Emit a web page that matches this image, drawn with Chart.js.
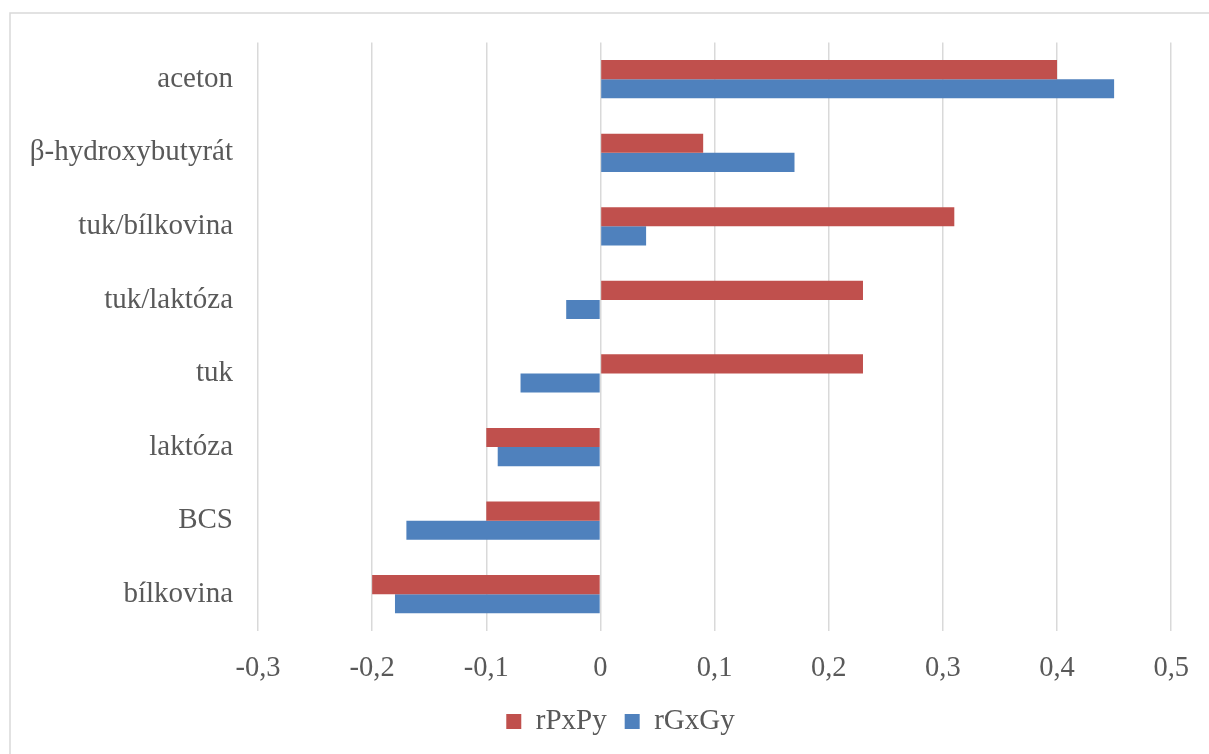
<!DOCTYPE html>
<html lang="cs">
<head>
<meta charset="utf-8">
<title>Genetické a fenotypové korelace</title>
<script src="https://cdn.jsdelivr.net/npm/chart.js@4/dist/chart.umd.min.js"></script>
<style>
  html, body { margin: 0; padding: 0; background: #ffffff; overflow: hidden; }
  #chart { display: block; }
</style>
</head>
<body>
<canvas id="chart" width="1209" height="754"></canvas>
<script>
// Traits, listed top to bottom
const categories = ['aceton', 'β-hydroxybutyrát', 'tuk/bílkovina', 'tuk/laktóza', 'tuk', 'laktóza', 'BCS', 'bílkovina'];

// Phenotypic correlations
const rPxPy = [0.40, 0.09, 0.31, 0.23, 0.23, -0.10, -0.10, -0.20];
// Genetic correlations
const rGxGy = [0.45, 0.17, 0.04, -0.03, -0.07, -0.09, -0.17, -0.18];

const seriesNames = ['rPxPy', 'rGxGy'];
const xTicks = [-0.3, -0.2, -0.1, 0, 0.1, 0.2, 0.3, 0.4, 0.5];

const textColor = '#595959';
const gridColor = '#d9d9d9';
const fontFamily = "'Liberation Serif', 'Times New Roman', serif";

// Light frame around the whole figure
const framePlugin = {
  id: 'frame',
  beforeDraw(chart) {
    const ctx = chart.ctx;
    ctx.save();
    ctx.strokeStyle = gridColor;
    ctx.lineWidth = 1.5;
    ctx.strokeRect(10, 13, chart.width + 20, chart.height + 20);
    ctx.restore();
  }
};

// Centre the legend under the whole figure rather than the padded area
const legendShift = {
  id: 'legendShift',
  afterLayout(chart) {
    const lg = chart.legend;
    if (!lg) return;
    const dx = 34;
    lg.left += dx;
    lg.right += dx;
  }
};

const formatTick = v => {
  const r = Math.round(v * 10) / 10;
  if (r === 0) return '0';
  return r.toFixed(1).replace('.', ',');
};

new Chart(document.getElementById('chart'), {
  type: 'bar',
  data: {
    labels: categories,
    datasets: [
      { label: seriesNames[0], data: rPxPy, backgroundColor: '#C0504D', borderWidth: 0 },
      { label: seriesNames[1], data: rGxGy, backgroundColor: '#4F81BD', borderWidth: 0 }
    ]
  },
  options: {
    indexAxis: 'y',
    responsive: false,
    devicePixelRatio: 1,
    animation: false,
    categoryPercentage: 0.52,
    barPercentage: 1,
    layout: { padding: { top: 42, right: 36, bottom: 8, left: 0 } },
    font: { family: fontFamily },
    scales: {
      x: {
        type: 'linear',
        min: xTicks[0],
        max: xTicks[xTicks.length - 1],
        afterBuildTicks(scale) {
          scale.ticks = xTicks.map(v => ({ value: v }));
        },
        afterFit(scale) { scale.height = 58; },
        grid: { color: gridColor, lineWidth: 1.5, drawTicks: false },
        border: { display: false },
        ticks: {
          color: textColor,
          font: { family: fontFamily, size: 28.5 },
          padding: 20,
          maxRotation: 0,
          callback: v => formatTick(v)
        }
      },
      y: {
        type: 'category',
        afterFit(scale) { scale.width = 258; },
        grid: { display: false, drawTicks: false },
        border: { display: false },
        ticks: {
          color: textColor,
          font: { family: fontFamily, size: 29 },
          padding: 25
        }
      }
    },
    plugins: {
      legend: {
        position: 'bottom',
        labels: {
          color: textColor,
          font: { family: fontFamily, size: 29 },
          boxWidth: 15,
          boxHeight: 15,
          padding: 18
        }
      },
      tooltip: { enabled: false }
    }
  },
  plugins: [framePlugin, legendShift]
});
</script>
</body>
</html>
